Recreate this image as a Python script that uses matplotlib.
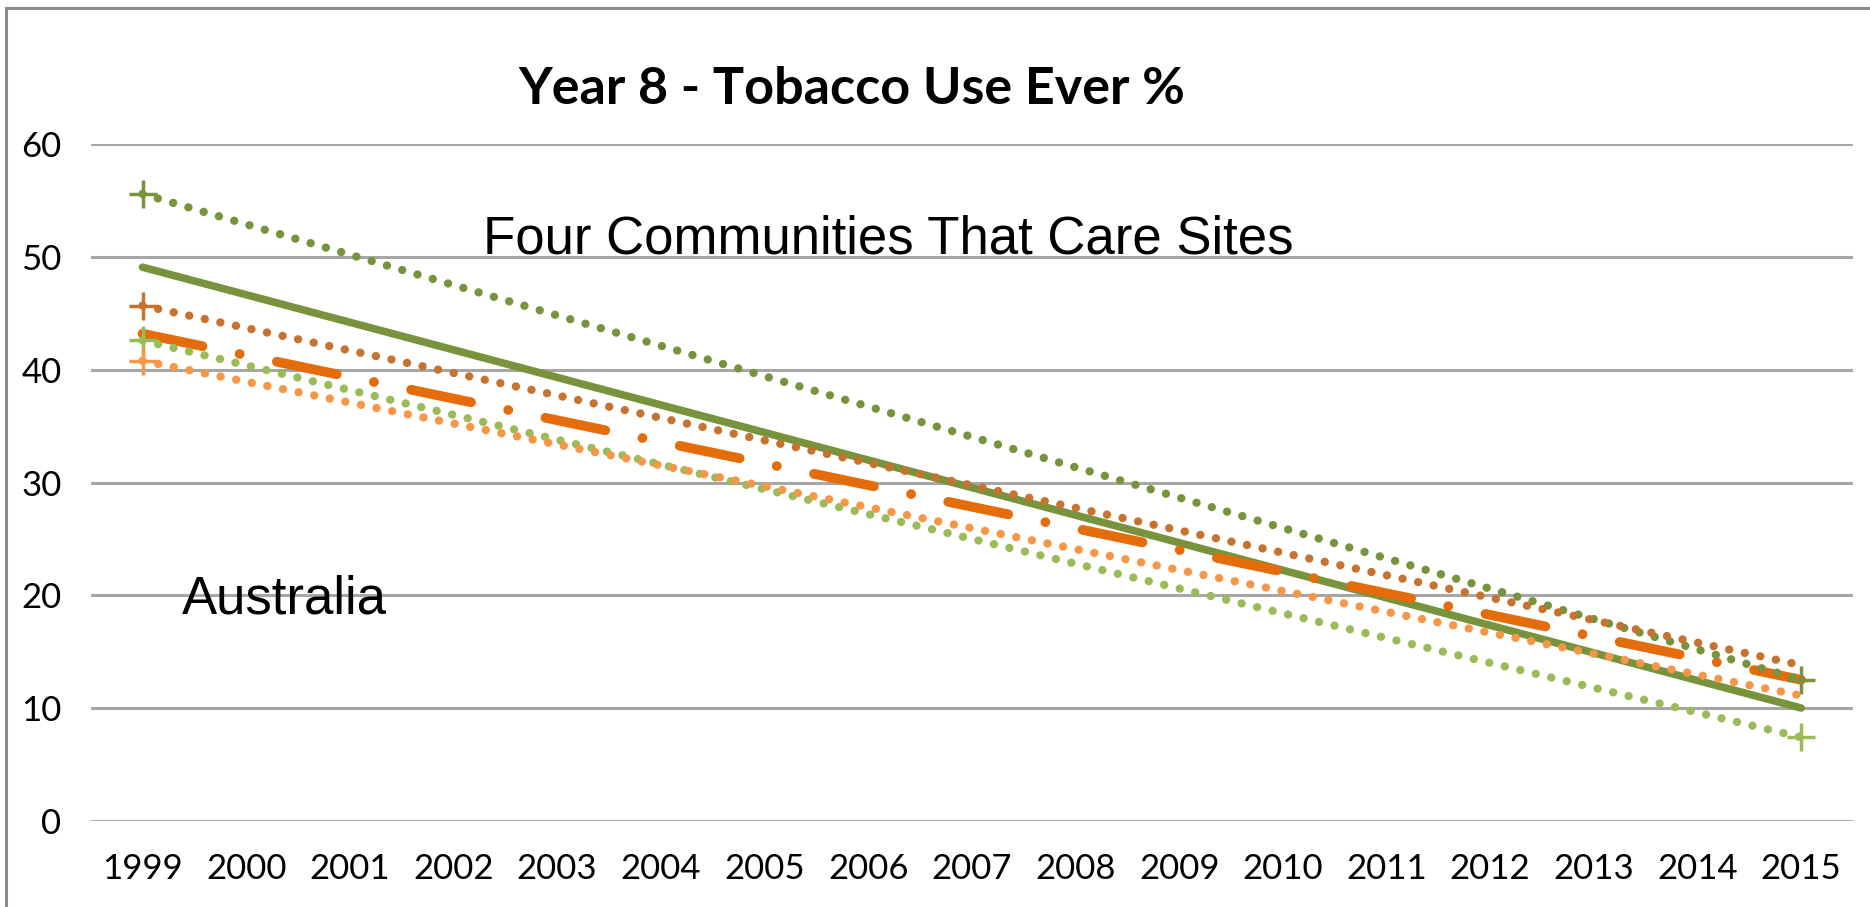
import matplotlib
matplotlib.use("Agg")
import matplotlib.pyplot as plt
from matplotlib.lines import Line2D

# trend lines are drawn from the first to the last survey year
years = list(range(1999, 2016))
trend_years = [1999, 2015]

site_a = [55.6, 12.5]      # dark green dotted
site_b = [45.7, 13.8]      # brown dotted
site_c = [42.6, 7.4]       # light green dotted
site_d = [40.8, 11.1]      # light orange dotted
sites_avg = [49.1, 10.0]   # solid green
australia = [43.2, 12.5]   # orange dash-dot

# survey points shown with a plus marker
site_a_pts = ([1999, 2015], [55.6, 12.5])
site_b_pts = ([1999], [45.7])
site_c_pts = ([1999, 2015], [42.6, 7.4])
site_d_pts = ([1999], [40.8])

yticks = [0, 10, 20, 30, 40, 50, 60]

fig = plt.figure(figsize=(18.7, 9.07), dpi=100)
ax = fig.add_axes([0.0485, 0.0951, 0.9424, 0.7458])

dotted = (0, (0.01, 1.9))
dot = dict(dash_capstyle="round", linestyle=dotted, lw=6)

ax.plot(trend_years, sites_avg, color="#77933C", lw=5.5, solid_capstyle="round", zorder=3)
ax.plot(trend_years, australia, color="#E46C0A", lw=7,
        linestyle=(0, (6.3, 3.9, 0.01, 3.9)), dash_capstyle="round", zorder=4)
ax.plot(trend_years, site_a, color="#77933C", zorder=5, **dot)
ax.plot(trend_years, site_b, color="#C8722F", zorder=5, **dot)
ax.plot(trend_years, site_c, color="#9BBB59", zorder=5, **dot)
ax.plot(trend_years, site_d, color="#F79646", zorder=6, **dot)

for pts, c in [(site_a_pts, "#77933C"), (site_b_pts, "#C8722F"),
               (site_c_pts, "#9BBB59"), (site_d_pts, "#F79646")]:
    ax.plot(pts[0], pts[1], linestyle="none", marker="+", markersize=20,
            mew=2.5, color=c, zorder=4)

ax.set_xlim(1998.5, 2015.5)
ax.set_ylim(0, 60)
ax.set_xticks(years)
ax.set_xticklabels([str(y) for y in years], fontfamily="Lato", fontsize=25)
ax.set_yticks(yticks)
ax.set_yticklabels([str(v) for v in yticks], fontfamily="Lato", fontsize=25)
ax.tick_params(axis="both", length=0)
ax.tick_params(axis="y", pad=21)
ax.tick_params(axis="x", pad=23)
ax.grid(axis="y", color="#A6A6A6", lw=2.2)
ax.set_axisbelow(True)
for s in ax.spines.values():
    s.set_visible(False)

fig.text(852 / 1870, 1 - 90 / 907, "Year 8 - Tobacco Use Ever %", ha="center", va="center",
         fontfamily="Lato", fontweight="bold", fontsize=37.5)

ax.text(483 / 1870, 1 - 253 / 907, "Four Communities That Care Sites", transform=fig.transFigure,
        fontfamily="Liberation Sans", fontsize=38, va="baseline", ha="left", zorder=10)
ax.text(182 / 1870, 1 - 613 / 907, "Australia", transform=fig.transFigure,
        fontfamily="Liberation Sans", fontsize=38, va="baseline", ha="left", zorder=10)

# frame around the chart area (top and left edges)
fig.add_artist(Line2D([6 / 1870, 1], [1 - 8 / 907, 1 - 8 / 907], color="#8C8C8C", lw=2.2))
fig.add_artist(Line2D([6 / 1870, 6 / 1870], [0, 1 - 8 / 907], color="#8C8C8C", lw=2.2))

fig.savefig("out.png", dpi=100)
